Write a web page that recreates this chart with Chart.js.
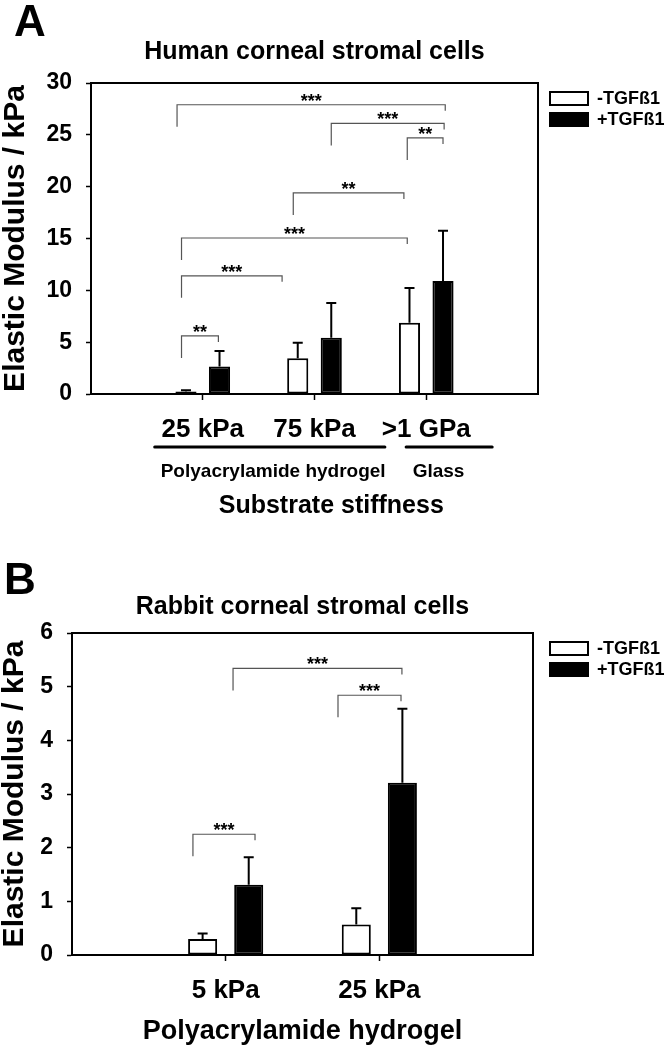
<!DOCTYPE html>
<html>
<head>
<meta charset="utf-8">
<script src="https://cdn.jsdelivr.net/npm/chart.js@4.4.0/dist/chart.umd.min.js"></script>
<style>
  body { margin: 0; background: #fff; font-family: 'Liberation Sans', Arial, sans-serif; }
  .panel { position: relative; width: 665px; }
  .panel canvas { display: block; }
  .letra { position: absolute; font-size: 44px; font-weight: bold; line-height: 1; color: #000; }
</style>
</head>
<body>
<div class="panel" style="height:540px">
  <div class="letra" style="left:14px; top:-1px">A</div>
  <canvas id="graficaA" width="665" height="540"></canvas>
</div>
<div class="panel" style="height:510px">
  <div class="letra" style="left:4px; top:17px">B</div>
  <canvas id="graficaB" width="665" height="510"></canvas>
</div>
<script>
// Panel A: células estromales corneales humanas
const categoriasA = ['25 kPa', '75 kPa', '>1 GPa'];
const sinTGFA = [0.25, 3.45, 6.87];
const conTGFA = [2.65, 5.43, 10.9];
const errSinTGFA = [0.1, 1.5, 3.35];
const errConTGFA = [1.5, 3.35, 4.85];

// Corchetes de significancia A (x en unidades de categoría, altura en kPa)
const sigDesdeA = [0.77, 2.15, 2.83, 1.81, 0.81, 0.81, 0.81];
const sigHastaA = [3.17, 3.16, 3.15, 2.80, 2.83, 1.71, 1.14];
const sigAlturaA = [27.9, 26.1, 24.7, 19.4, 15.05, 11.4, 5.6];
const sigTextoA = ['***', '***', '**', '**', '***', '***', '**'];

// Grupos debajo del eje x de A
const gruposA = ['Polyacrylamide hydrogel', 'Glass'];
const grupoDesdeA = [0.57, 2.82];
const grupoHastaA = [2.63, 3.59];
const grupoCentroA = [1.63, 3.11];

// Panel B: células estromales corneales de conejo
const categoriasB = ['5 kPa', '25 kPa'];
const sinTGFB = [0.3, 0.57];
const conTGFB = [1.31, 3.21];
const errSinTGFB = [0.1, 0.3];
const errConTGFB = [0.51, 1.38];

const sigDesdeB = [1.048, 1.731, 0.787];
const sigHastaB = [2.147, 2.141, 1.191];
const sigAlturaB = [5.34, 4.84, 2.25];
const sigTextoB = ['***', '***', '***'];

const FUENTE = "'Liberation Sans', Arial, sans-serif";
Chart.defaults.font.family = FUENTE;
Chart.defaults.color = '#000';

// categoría vacía a cada lado para dejar el hueco de los bordes
const relleno = arr => [null, ...arr, null];

// Marco completo alrededor del área del gráfico
const pluginMarco = {
  id: 'marco',
  afterDraw(chart) {
    const { ctx, chartArea: a } = chart;
    ctx.save();
    ctx.strokeStyle = '#000';
    ctx.lineWidth = 2;
    ctx.strokeRect(a.left, a.top, a.right - a.left, a.bottom - a.top);
    ctx.restore();
  }
};

// Barras de error (solo hacia arriba)
const pluginErrores = {
  id: 'errores',
  afterDatasetsDraw(chart) {
    const { ctx } = chart;
    const y = chart.scales.y;
    ctx.save();
    ctx.strokeStyle = '#000';
    ctx.lineWidth = 2;
    chart.data.datasets.forEach((ds, i) => {
      const meta = chart.getDatasetMeta(i);
      meta.data.forEach((barra, j) => {
        const v = ds.data[j];
        const e = ds.errores[j];
        if (v == null || e == null) return;
        const yTop = y.getPixelForValue(v + e);
        ctx.beginPath();
        ctx.moveTo(barra.x, barra.y);
        ctx.lineTo(barra.x, yTop);
        ctx.moveTo(barra.x - 5, yTop);
        ctx.lineTo(barra.x + 5, yTop);
        ctx.stroke();
      });
    });
    ctx.restore();
  }
};

function pluginCorchetes(desde, hasta, altura, texto) {
  return {
    id: 'corchetes',
    afterDatasetsDraw(chart) {
      const { ctx } = chart;
      const x = chart.scales.x;
      const y = chart.scales.y;
      ctx.save();
      ctx.strokeStyle = '#555';
      ctx.lineWidth = 1.2;
      ctx.fillStyle = '#000';
      ctx.font = 'bold 18px ' + FUENTE;
      ctx.textAlign = 'center';
      ctx.textBaseline = 'alphabetic';
      for (let i = 0; i < desde.length; i++) {
        const x1 = x.getPixelForValue(desde[i]);
        const x2 = x.getPixelForValue(hasta[i]);
        const yy = y.getPixelForValue(altura[i]);
        ctx.beginPath();
        ctx.moveTo(x1, yy + 22);
        ctx.lineTo(x1, yy);
        ctx.lineTo(x2, yy);
        ctx.lineTo(x2, yy + 6);
        ctx.stroke();
        ctx.fillText(texto[i], (x1 + x2) / 2, yy + 2);
      }
      ctx.restore();
    }
  };
}

// Líneas y nombres de grupo bajo las etiquetas del eje x, y el título del eje
function pluginGrupos(nombres, desde, hasta, centro, tituloX, centroTitulo) {
  return {
    id: 'grupos',
    afterDraw(chart) {
      const { ctx } = chart;
      const x = chart.scales.x;
      const base = chart.chartArea.bottom;
      ctx.save();
      ctx.strokeStyle = '#000';
      ctx.lineWidth = 3;
      ctx.lineCap = 'round';
      ctx.fillStyle = '#000';
      ctx.font = 'bold 19px ' + FUENTE;
      ctx.textAlign = 'center';
      ctx.textBaseline = 'middle';
      for (let i = 0; i < nombres.length; i++) {
        ctx.beginPath();
        ctx.moveTo(x.getPixelForValue(desde[i]), base + 53);
        ctx.lineTo(x.getPixelForValue(hasta[i]), base + 53);
        ctx.stroke();
        ctx.fillText(nombres[i], x.getPixelForValue(centro[i]), base + 78);
      }
      ctx.font = 'bold 25px ' + FUENTE;
      ctx.fillText(tituloX, x.getPixelForValue(centroTitulo), base + 112);
      ctx.restore();
    }
  };
}

function crearGrafica(id, cfg) {
  const fuenteNegrita = size => ({ size, weight: 'bold', family: FUENTE });
  return new Chart(document.getElementById(id), {
    type: 'bar',
    data: {
      labels: ['', ...cfg.categorias, ''],
      datasets: [
        {
          label: '-TGFß1',
          data: relleno(cfg.sin),
          errores: relleno(cfg.errSin),
          backgroundColor: '#fff',
          borderColor: '#000',
          borderWidth: 2,
          borderSkipped: false,
          yAxisID: 'y'
        },
        {
          label: '+TGFß1',
          data: relleno(cfg.con),
          errores: relleno(cfg.errCon),
          backgroundColor: '#000',
          borderColor: '#000',
          borderWidth: 2,
          borderSkipped: false,
          yAxisID: 'y'
        }
      ]
    },
    options: {
      responsive: false,
      animation: false,
      categoryPercentage: 0.6,
      barPercentage: 0.63,
      layout: { padding: 0 },
      plugins: {
        tooltip: { enabled: false },
        title: {
          display: true,
          text: cfg.titulo,
          fullSize: false,
          font: fuenteNegrita(25),
          padding: cfg.paddingTitulo
        },
        legend: {
          position: 'right',
          align: 'start',
          fullSize: false,
          maxWidth: 118,
          title: { display: true, text: '', padding: 0, font: { size: 3 } },
          labels: {
            boxWidth: 38,
            boxHeight: 13,
            padding: 3,
            font: fuenteNegrita(18),
            color: '#000'
          }
        }
      },
      scales: {
        x: {
          type: 'category',
          offset: false,
          grid: {
            offset: false,
            drawOnChartArea: false,
            tickLength: 6,
            tickWidth: 1.5,
            tickColor: c => (c.tick && c.tick.label ? '#000' : 'rgba(0,0,0,0)')
          },
          border: { color: '#000', width: 2 },
          ticks: { font: fuenteNegrita(26), padding: 14, maxRotation: 0, autoSkip: false, color: '#000' },
          title: {
            display: cfg.tituloXNativo,
            text: cfg.tituloX,
            font: fuenteNegrita(cfg.tamTituloX),
            padding: { top: 0, bottom: cfg.padTituloX }
          },
          afterFit: s => { s.height = cfg.altoEjeX; }
        },
        y: {
          min: 0,
          max: cfg.maxY,
          grid: { drawOnChartArea: false, tickLength: 5, tickWidth: 1.5, tickColor: '#000' },
          border: { color: '#000', width: 2 },
          ticks: { stepSize: cfg.pasoY, font: fuenteNegrita(23), padding: 14, color: '#000' },
          title: {
            display: true,
            text: 'Elastic Modulus / kPa',
            font: { size: 30, weight: 'bold', family: FUENTE, lineHeight: 1 },
            padding: { top: cfg.padTituloY, bottom: 0 }
          },
          afterFit: s => { s.width = cfg.anchoEjeY; }
        },
        // eje vacío: solo deja un hueco entre el marco y la leyenda
        yR: {
          position: 'right',
          grid: { display: false },
          ticks: { display: false },
          border: { display: false },
          afterFit: s => { s.width = cfg.hueco; }
        }
      }
    },
    plugins: cfg.plugins
  });
}

crearGrafica('graficaA', {
  categorias: categoriasA,
  sin: sinTGFA,
  con: conTGFA,
  errSin: errSinTGFA,
  errCon: errConTGFA,
  titulo: 'Human corneal stromal cells',
  paddingTitulo: { top: 37, bottom: 16 },
  tituloX: 'Substrate stiffness',
  tituloXNativo: false,
  tamTituloX: 25,
  padTituloX: 19,
  altoEjeX: 146,
  maxY: 30,
  pasoY: 5,
  padTituloY: 1,
  anchoEjeY: 91,
  hueco: 9,
  plugins: [
    pluginMarco,
    pluginErrores,
    pluginCorchetes(sigDesdeA, sigHastaA, sigAlturaA, sigTextoA),
    pluginGrupos(gruposA, grupoDesdeA, grupoHastaA, grupoCentroA, 'Substrate stiffness', 2.15)
  ]
});

crearGrafica('graficaB', {
  categorias: categoriasB,
  sin: sinTGFB,
  con: conTGFB,
  errSin: errSinTGFB,
  errCon: errConTGFB,
  titulo: 'Rabbit corneal stromal cells',
  paddingTitulo: { top: 52, bottom: 11 },
  tituloX: 'Polyacrylamide hydrogel',
  tituloXNativo: true,
  tamTituloX: 27,
  padTituloX: 2,
  altoEjeX: 95,
  maxY: 6,
  pasoY: 1,
  padTituloY: 0,
  anchoEjeY: 72,
  hueco: 14,
  plugins: [
    pluginMarco,
    pluginErrores,
    pluginCorchetes(sigDesdeB, sigHastaB, sigAlturaB, sigTextoB)
  ]
});
</script>
</body>
</html>
